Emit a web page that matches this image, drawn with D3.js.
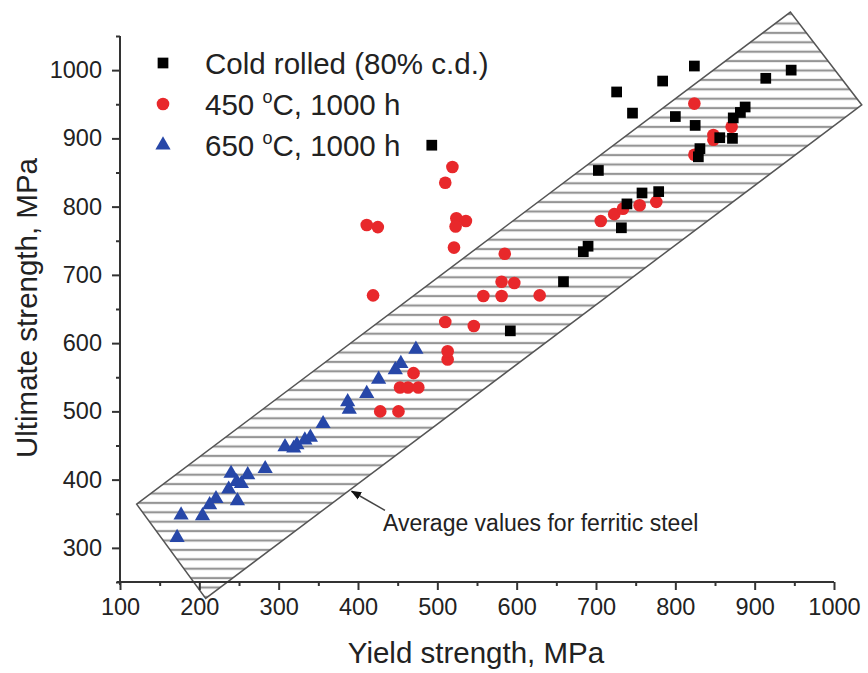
<!doctype html>
<html>
<head>
<meta charset="UTF-8" />
<script src="https://d3js.org/d3.v7.min.js"></script>
<style>
  body { margin: 0; background: #fff; }
  text { font-family: "Liberation Sans", Arial, sans-serif; fill: #222; }
</style>
</head>
<body>
<svg id="chart" width="868" height="673"></svg>
<script>
(function(){
  "use strict";

  // cold rolled (80% c.d.): [yield, ultimate] in MPa
  const coldRolled = [
    [493, 890], [592, 618], [659, 690], [684, 734], [690, 742], [703, 853],
    [726, 968], [732, 769], [739, 804], [746, 937], [758, 820], [779, 822],
    [784, 984], [800, 932], [824, 1006], [825, 919], [829, 873], [831, 885],
    [856, 901], [872, 900], [873, 930], [882, 938], [888, 946], [914, 988],
    [946, 1000]
  ];
  // 450 °C, 1000 h
  const aged450 = [
    [411, 773], [425, 770], [419, 670], [428, 500], [451, 500], [453, 535],
    [463, 535], [476, 535], [470, 556], [513, 576], [513, 588], [510, 631],
    [546, 625], [558, 669], [581, 669], [581, 690], [597, 688], [585, 731],
    [629, 670], [519, 858], [510, 835], [524, 783], [536, 779], [523, 771],
    [521, 740], [706, 779], [723, 789], [734, 797], [755, 802], [776, 807],
    [824, 951], [824, 876], [848, 898], [848, 905], [871, 917]
  ];
  // 650 °C, 1000 h
  const aged650 = [
    [172, 315], [177, 348], [204, 347], [213, 363], [221, 372], [237, 386],
    [240, 409], [247, 397], [248, 369], [253, 394], [261, 407], [283, 416],
    [308, 448], [319, 446], [323, 451], [333, 458], [340, 462], [356, 482],
    [389, 503], [387, 514], [411, 526], [426, 547], [447, 561], [454, 570],
    [473, 591]
  ];

  // band of average values for ferritic steel (upper and lower edges)
  const bandUpper = [[121, 364], [945, 1085]];
  const bandLower = [[208, 226], [1035, 949]];

  const xMajor = [100, 200, 300, 400, 500, 600, 700, 800, 900, 1000];
  const xMinor = [150, 250, 350, 450, 550, 650, 750, 850, 950];
  const yMajor = [300, 400, 500, 600, 700, 800, 900, 1000];
  const yMinor = [250, 350, 450, 550, 650, 750, 850, 950, 1050];

  const legendLabels = ["Cold rolled (80% c.d.)", "450|C, 1000 h", "650|C, 1000 h"];

  const svg = d3.select("#chart");
  const x = d3.scaleLinear().domain([100, 1000]).range([120, 834]);
  const y = d3.scaleLinear().domain([250, 1050]).range([582, 36]);

  const red = "#e8282b", blue = "#2747a8";

  // hatch pattern
  const defs = svg.append("defs");
  const pat = defs.append("pattern")
      .attr("id", "hatch")
      .attr("patternUnits", "userSpaceOnUse")
      .attr("width", 20).attr("height", 9.4);
  pat.append("rect").attr("width", 20).attr("height", 9.4).attr("fill", "#fff");
  pat.append("line")
      .attr("x1", 0).attr("x2", 20).attr("y1", 4.7).attr("y2", 4.7)
      .attr("stroke", "#959595").attr("stroke-width", 2.2);

  const bandPts = [bandUpper[0], bandUpper[1], bandLower[1], bandLower[0]];
  svg.append("polygon")
      .attr("points", bandPts.map(d => x(d[0]) + "," + y(d[1])).join(" "))
      .attr("fill", "url(#hatch)")
      .attr("stroke", "#555")
      .attr("stroke-width", 1.5);

  // axes
  const fmt = d3.format("d");
  const xAxis = svg.append("g").attr("transform", "translate(0,582)")
      .call(d3.axisBottom(x).tickValues(xMajor).tickFormat(fmt).tickSize(8).tickSizeOuter(0).tickPadding(8));
  svg.append("g").attr("transform", "translate(0,582)")
      .call(d3.axisBottom(x).tickValues(xMinor).tickSize(4).tickSizeOuter(0).tickFormat(""))
      .select(".domain").remove();
  const yAxis = svg.append("g").attr("transform", "translate(120,0)")
      .call(d3.axisLeft(y).tickValues(yMajor).tickFormat(fmt).tickSize(8).tickSizeOuter(0).tickPadding(10));
  svg.append("g").attr("transform", "translate(120,0)")
      .call(d3.axisLeft(y).tickValues(yMinor).tickSize(4).tickSizeOuter(0).tickFormat(""))
      .select(".domain").remove();

  svg.selectAll(".domain, .tick line").attr("stroke", "#333").attr("stroke-width", 2);
  xAxis.select(".domain").attr("d", "M117,0H834");
  yAxis.select(".domain").attr("d", "M0,585V" + y(1050));
  svg.selectAll(".tick text")
      .style("font-family", "'Liberation Sans', Arial, sans-serif")
      .style("font-size", "23.5px").attr("fill", "#222");

  // axis titles
  svg.append("text")
      .attr("x", 476).attr("y", 663)
      .attr("text-anchor", "middle")
      .style("font-size", "29.5px")
      .text("Yield strength, MPa");
  svg.append("text")
      .attr("transform", "translate(37,308) rotate(-90)")
      .attr("text-anchor", "middle")
      .style("font-size", "29.5px")
      .text("Ultimate strength, MPa");

  // markers
  const sym = {
    square: d3.symbol().type(d3.symbolSquare).size(115),
    circle: d3.symbol().type(d3.symbolCircle).size(125),
    triangle: d3.symbol().type(d3.symbolTriangle).size(100)
  };
  function drawSeries(data, shape, color){
    svg.append("g").selectAll("path")
      .data(data).enter().append("path")
      .attr("transform", d => "translate(" + x(d[0]) + "," + y(d[1]) + ")")
      .attr("d", sym[shape]())
      .attr("fill", color);
  }
  drawSeries(aged650, "triangle", blue);
  drawSeries(aged450, "circle", red);
  drawSeries(coldRolled, "square", "#000");

  // annotation
  const arrowTip = [392, 383], arrowTail = [434, 355];
  defs.append("marker")
      .attr("id", "head").attr("viewBox", "0 0 10 10")
      .attr("refX", 9).attr("refY", 5)
      .attr("markerWidth", 7).attr("markerHeight", 7)
      .attr("orient", "auto")
    .append("path").attr("d", "M0,1L10,5L0,9Z").attr("fill", "#111");
  svg.append("line")
      .attr("x1", x(arrowTail[0])).attr("y1", y(arrowTail[1]))
      .attr("x2", x(arrowTip[0])).attr("y2", y(arrowTip[1]))
      .attr("stroke", "#444").attr("stroke-width", 1.5)
      .attr("marker-end", "url(#head)");
  svg.append("text")
      .attr("x", x(arrowTail[0]) - 2).attr("y", y(arrowTail[1]) + 21)
      .style("font-size", "23px")
      .text("Average values for ferritic steel");

  // legend
  const legend = svg.append("g");
  const shapes = [["square", "#000"], ["circle", red], ["triangle", blue]];
  legendLabels.forEach(function(lbl, i){
    const cy = 63 + i * 41;
    legend.append("path")
        .attr("transform", "translate(163," + cy + ")")
        .attr("d", sym[shapes[i][0]]())
        .attr("fill", shapes[i][1]);
    const t = legend.append("text")
        .attr("x", 205).attr("y", cy + 11)
        .style("font-size", "29.5px");
    if (lbl.indexOf("|") >= 0) {
      const parts = lbl.split("|");
      t.append("tspan").text(parts[0] + " ");
      t.append("tspan").attr("dy", -12).style("font-size", "18px").text("o");
      t.append("tspan").attr("dy", 12).text(parts[1]);
    } else {
      t.text(lbl);
    }
  });
})();
</script>
</body>
</html>
